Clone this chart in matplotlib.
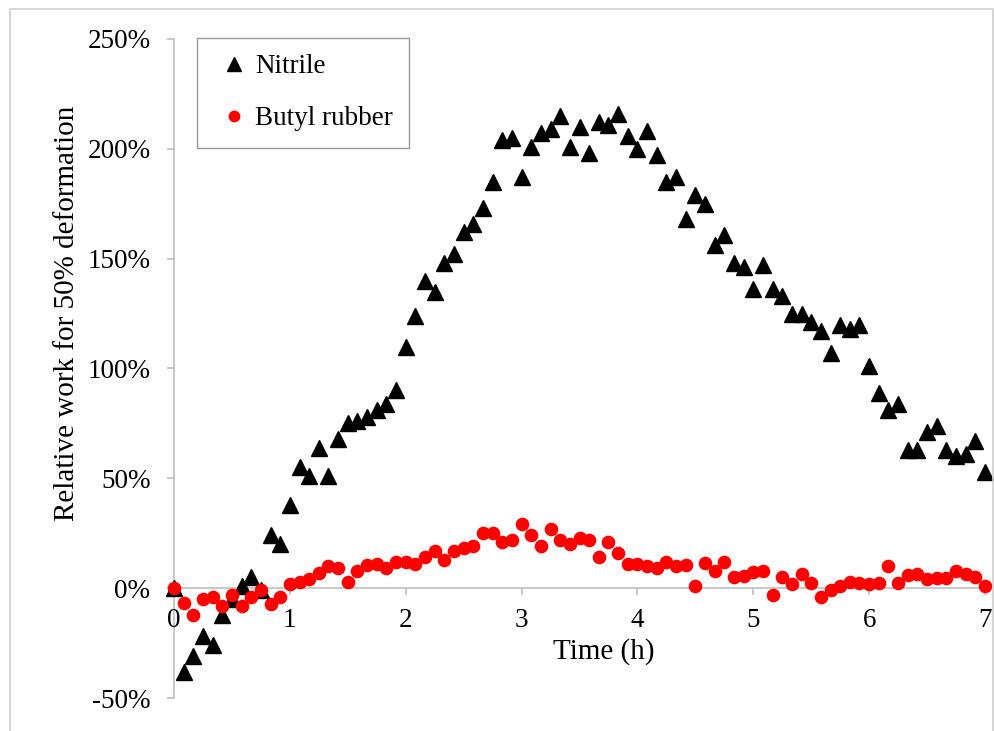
import matplotlib
matplotlib.use("Agg")
import matplotlib.pyplot as plt
from matplotlib.patches import Rectangle
from matplotlib.ticker import PercentFormatter

plt.rcParams['font.family'] = ['Liberation Serif', 'DejaVu Serif']
plt.rcParams['axes.unicode_minus'] = False

# readings every 5 minutes, 0 to 7 h
steps = list(range(85))
time_h = [s / 12 for s in steps]

nitrile = [0, -38, -31, -22, -26, -12, -5, 1, 5, -1,
           24, 20, 38, 55, 51, 64, 51, 68, 75, 76,
           78, 81, 84, 90, 110, 124, 140, 135, 148, 152,
           162, 166, 173, 185, 204, 205, 187, 201, 207, 209,
           215, 201, 210, 198, 212, 211, 216, 206, 200, 208,
           197, 185, 187, 168, 179, 175, 156, 161, 148, 146,
           136, 147, 136, 133, 125, 125, 121, 117, 107, 120,
           118, 120, 101, 89, 81, 84, 63, 63, 71, 74,
           63, 60, 61, 67, 53]

butyl = [0, -6.6, -12, -5, -4, -8, -3, -8, -4, -1,
         -7, -4, 2, 3, 4, 7, 10, 9, 3, 8,
         10.5, 11, 9, 12, 12, 11, 14, 17, 13, 17,
         18.5, 19, 25, 25, 21, 22, 29, 24, 19, 27,
         22, 20, 23, 22, 14, 21, 16, 11, 11, 10,
         9, 12, 10, 10.5, 1, 11.5, 8, 12, 5, 5.5,
         7.5, 8, -3, 5, 2, 6.5, 2.5, -4, -1, 1,
         3, 2.5, 2, 2.5, 10, 2.5, 6, 6.5, 4, 4.5,
         4.5, 8, 6.5, 5, 1]

x_ticks = [0, 1, 2, 3, 4, 5, 6, 7]
y_ticks = [-50, 0, 50, 100, 150, 200, 250]

W, H = 994, 731
fig = plt.figure(figsize=(W / 100, H / 100), dpi=100)
ax = fig.add_axes([174 / W, 1 - 698 / H, (985 - 174) / W, (698 - 39) / H])

ax.plot(time_h, nitrile, '^', color='black', ms=11.5, mec='black',
        label='Nitrile', clip_on=False)
ax.plot(time_h, butyl, 'o', color='#ff0000', ms=8.8, mec='#ff0000',
        label='Butyl rubber', clip_on=False)

ax.set_xlim(0, 7)
ax.set_ylim(-50, 250)
ax.set_xticks(x_ticks)
ax.set_yticks(y_ticks)
ax.yaxis.set_major_formatter(PercentFormatter(decimals=0))

ax.spines['top'].set_visible(False)
ax.spines['right'].set_visible(False)
ax.spines['bottom'].set_position(('data', 0))
for side in ('left', 'bottom'):
    ax.spines[side].set_color('#bfbfbf')
    ax.spines[side].set_linewidth(1.2)
    ax.spines[side].set_zorder(0.5)
ax.tick_params(axis='both', direction='out', length=5, width=1.2, color='#bfbfbf',
               labelsize=19.5, labelcolor='black')
ax.tick_params(axis='y', pad=12)
ax.tick_params(axis='x', pad=9)

ax.set_xlabel('Time (h)', fontsize=21)
ax.xaxis.set_label_coords(0.53, 0.07)
ax.xaxis.label.set_va('center')
ax.set_ylabel('Relative work for 50% deformation', fontsize=21)
ax.yaxis.set_label_coords(-0.132, 0.583)
ax.yaxis.label.set_va('center')

leg = ax.legend(loc='upper left', bbox_to_anchor=(197 / W, 1 - 38 / H),
                bbox_transform=fig.transFigure, borderaxespad=0, fontsize=19.5,
                frameon=True, fancybox=False, markerscale=0.85, handlelength=1.5,
                handletextpad=0.05, labelspacing=1.0, borderpad=0.6)
leg.get_frame().set_edgecolor('#7f7f7f')
leg.get_frame().set_linewidth(1.0)
leg.set_zorder(5)

# light frame around the whole chart
fig.add_artist(Rectangle((10 / W, -0.02), (993 - 10) / W, 1 - 9 / H + 0.02,
                         transform=fig.transFigure, fill=False,
                         edgecolor='#d0d0d0', linewidth=1.2))

fig.savefig('out.png', dpi=100)
